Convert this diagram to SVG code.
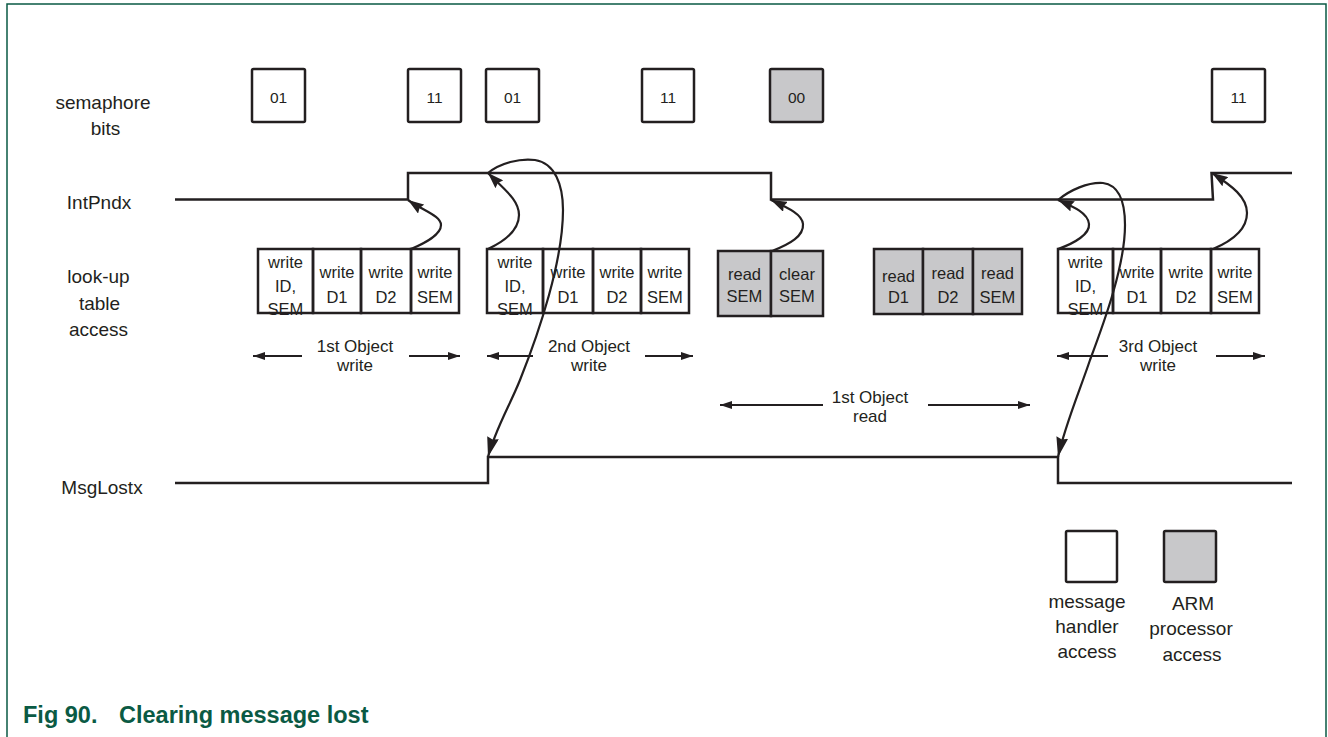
<svg xmlns="http://www.w3.org/2000/svg" width="1328" height="737" viewBox="0 0 1328 737">
<style>
  .lbl{font-family:"Liberation Sans",Arial,Helvetica,sans-serif;font-size:19px;fill:#231f20;text-anchor:middle}
  .ct{font-family:"Liberation Sans",Arial,Helvetica,sans-serif;font-size:16.5px;fill:#231f20;text-anchor:middle}
  .st{font-family:"Liberation Sans",Arial,Helvetica,sans-serif;font-size:15.5px;fill:#231f20;text-anchor:middle}
  .ot{font-family:"Liberation Sans",Arial,Helvetica,sans-serif;font-size:17px;fill:#231f20;text-anchor:middle}
  .cap{font-family:"Liberation Sans",Arial,Helvetica,sans-serif;font-size:23.5px;font-weight:bold;fill:#0a5a44}
  .box{fill:none;stroke:#231f20;stroke-width:2.5}
  .gbox{fill:#c8c8ca;stroke:#231f20;stroke-width:2.5}
  .sig{fill:none;stroke:#231f20;stroke-width:2.5}
  .cur{fill:none;stroke:#231f20;stroke-width:2.2}
  .oa{fill:none;stroke:#231f20;stroke-width:2.2}
  .frame{fill:none;stroke:#0a5a44;stroke-width:1.5}
</style>
<defs>
  <marker id="ahS" markerUnits="userSpaceOnUse" orient="auto" markerWidth="16" markerHeight="11" viewBox="0 0 16 11" refX="16" refY="5.5">
    <path d="M0,0 L16,5.5 L0,11 L2,5.5 z" fill="#231f20"/>
  </marker>
  <marker id="ahL" markerUnits="userSpaceOnUse" orient="auto" markerWidth="20" markerHeight="12" viewBox="0 0 20 12" refX="20" refY="6">
    <path d="M0,0 L20,6 L0,12 L2,6 z" fill="#231f20"/>
  </marker>
  <marker id="ahO" markerUnits="userSpaceOnUse" orient="auto" markerWidth="12" markerHeight="8" viewBox="0 0 12 8" refX="12" refY="4">
    <path d="M0,0 L12,4 L0,8 z" fill="#231f20"/>
  </marker>
</defs>

<rect x="0" y="0" width="1328" height="737" fill="#ffffff"/>
<path class="frame" d="M7,737 V4 H1326 V737"/>

<g id="row-labels">
  <text class="lbl" x="103" y="109">semaphore</text>
  <text class="lbl" x="105.5" y="135">bits</text>
  <text class="lbl" x="99" y="208.5">IntPndx</text>
  <text class="lbl" x="98.5" y="283">look-up</text>
  <text class="lbl" x="99.5" y="310">table</text>
  <text class="lbl" x="98.5" y="336">access</text>
  <text class="lbl" x="102" y="494">MsgLostx</text>
</g>

<g id="semaphore-bits">
  <g id="sem1"><rect class="box" x="252" y="69" width="53" height="53" rx="1.5"/><text class="st" x="278.5" y="102.5">01</text></g>
  <g id="sem2"><rect class="box" x="408" y="69" width="53" height="53" rx="1.5"/><text class="st" x="434.5" y="102.5">11</text></g>
  <g id="sem3"><rect class="box" x="486" y="69" width="53" height="53" rx="1.5"/><text class="st" x="512.5" y="102.5">01</text></g>
  <g id="sem4"><rect class="box" x="642" y="69" width="52" height="53" rx="1.5"/><text class="st" x="668" y="102.5">11</text></g>
  <g id="sem5"><rect class="gbox" x="770" y="69" width="53" height="53" rx="1.5"/><text class="st" x="796.5" y="102.5">00</text></g>
  <g id="sem6"><rect class="box" x="1212" y="69" width="53" height="53" rx="1.5"/><text class="st" x="1238.5" y="102.5">11</text></g>
</g>

<g id="signals">
  <path id="intpndx" class="sig" d="M175,199.5 H408 V173 H771 V199.5 H1213 L1211.5,173 H1292"/>
  <path id="msglostx" class="sig" d="M175,483 H488 V457 H1058 V483 H1292"/>
</g>

<g id="write1">
  <g id="w1c1"><text class="ct" x="285.5" y="268">write</text><text class="ct" x="285.5" y="291.5">ID,</text><text class="ct" x="285.5" y="315">SEM</text><rect class="box" x="258" y="249" width="55" height="64"/></g>
  <g id="w1c2"><text class="ct" x="337" y="278">write</text><text class="ct" x="337" y="302.5">D1</text><rect class="box" x="313" y="249" width="48" height="64"/></g>
  <g id="w1c3"><text class="ct" x="386" y="278">write</text><text class="ct" x="386" y="302.5">D2</text><rect class="box" x="361" y="249" width="50" height="64"/></g>
  <g id="w1c4"><text class="ct" x="435" y="278">write</text><text class="ct" x="435" y="302.5">SEM</text><rect class="box" x="411" y="249" width="48" height="64"/></g>
</g>

<g id="write2">
  <g id="w2c1"><text class="ct" x="515" y="268">write</text><text class="ct" x="515" y="291.5">ID,</text><text class="ct" x="515" y="315">SEM</text><rect class="box" x="487" y="249" width="56" height="64"/></g>
  <g id="w2c2"><text class="ct" x="568" y="278">write</text><text class="ct" x="568" y="302.5">D1</text><rect class="box" x="543" y="249" width="50" height="64"/></g>
  <g id="w2c3"><text class="ct" x="617" y="278">write</text><text class="ct" x="617" y="302.5">D2</text><rect class="box" x="593" y="249" width="48" height="64"/></g>
  <g id="w2c4"><text class="ct" x="665" y="278">write</text><text class="ct" x="665" y="302.5">SEM</text><rect class="box" x="641" y="249" width="48" height="64"/></g>
</g>

<g id="readsem">
  <g id="r1c1"><rect class="gbox" x="718" y="251" width="53" height="65"/><text class="ct" x="744.5" y="280">read</text><text class="ct" x="744.5" y="302">SEM</text></g>
  <g id="r1c2"><rect class="gbox" x="771" y="251" width="52" height="65"/><text class="ct" x="797" y="280">clear</text><text class="ct" x="797" y="302">SEM</text></g>
</g>

<g id="readobj">
  <g id="r2c1"><rect class="gbox" x="874" y="249" width="49" height="65"/><text class="ct" x="898.5" y="282">read</text><text class="ct" x="898.5" y="303">D1</text></g>
  <g id="r2c2"><rect class="gbox" x="923" y="249" width="50" height="65"/><text class="ct" x="948" y="279">read</text><text class="ct" x="948" y="303">D2</text></g>
  <g id="r2c3"><rect class="gbox" x="973" y="249" width="49" height="65"/><text class="ct" x="997.5" y="279">read</text><text class="ct" x="997.5" y="303">SEM</text></g>
</g>

<g id="write3">
  <g id="w3c1"><text class="ct" x="1085.5" y="268">write</text><text class="ct" x="1085.5" y="291.5">ID,</text><text class="ct" x="1085.5" y="315">SEM</text><rect class="box" x="1058" y="249" width="55" height="64"/></g>
  <g id="w3c2"><text class="ct" x="1137" y="278">write</text><text class="ct" x="1137" y="302.5">D1</text><rect class="box" x="1113" y="249" width="48" height="64"/></g>
  <g id="w3c3"><text class="ct" x="1186" y="278">write</text><text class="ct" x="1186" y="302.5">D2</text><rect class="box" x="1161" y="249" width="50" height="64"/></g>
  <g id="w3c4"><text class="ct" x="1235" y="278">write</text><text class="ct" x="1235" y="302.5">SEM</text><rect class="box" x="1211" y="249" width="48" height="64"/></g>
</g>

<g id="object-labels">
  <text class="ot" x="355" y="352">1st Object</text><text class="ot" x="355" y="371">write</text>
  <text class="ot" x="589" y="352">2nd Object</text><text class="ot" x="589" y="371">write</text>
  <text class="ot" x="1158" y="352">3rd Object</text><text class="ot" x="1158" y="371">write</text>
  <text class="ot" x="870" y="403">1st Object</text><text class="ot" x="870" y="422">read</text>
</g>

<g id="connectors">
  <line class="oa" x1="302" y1="356" x2="253" y2="356" marker-end="url(#ahO)"/>
  <line class="oa" x1="409" y1="356" x2="460" y2="356" marker-end="url(#ahO)"/>
  <line class="oa" x1="533" y1="356" x2="487" y2="356" marker-end="url(#ahO)"/>
  <line class="oa" x1="645" y1="356" x2="693" y2="356" marker-end="url(#ahO)"/>
  <line class="oa" x1="1108" y1="356" x2="1057" y2="356" marker-end="url(#ahO)"/>
  <line class="oa" x1="1216" y1="356" x2="1265" y2="356" marker-end="url(#ahO)"/>
  <line class="oa" x1="823" y1="405" x2="720" y2="405" marker-end="url(#ahO)"/>
  <line class="oa" x1="928" y1="405" x2="1030" y2="405" marker-end="url(#ahO)"/>

  <path class="cur" d="M411,249 C425,243 441,235 441,225 C441,216 424,211 408,200" marker-end="url(#ahS)"/>
  <path class="cur" d="M488,249 C505,241 519,230 519,215 C519,200 505,190 488,173" marker-end="url(#ahS)"/>
  <path class="cur" d="M772,251 C790,244 804,236 803,224 C802,214 788,208 771,200" marker-end="url(#ahS)"/>
  <path class="cur" d="M1058,249 C1075,243 1090,234 1089,224 C1088,213 1074,207 1058,200" marker-end="url(#ahS)"/>
  <path class="cur" d="M1213,249 C1232,241 1247,229 1247,213 C1247,197 1232,186 1212,173" marker-end="url(#ahS)"/>

  <path class="cur" d="M488,173 C500,163 520,158 535,160 C555,163 563,185 563,210 C563,260 540,330 520,380 C510,405 495,430 488,457" marker-end="url(#ahL)"/>
  <path class="cur" d="M1058,200 C1070,190 1088,182 1103,183 C1118,185 1125,200 1125,225 C1125,265 1105,320 1090,360 C1080,390 1065,425 1058,457" marker-end="url(#ahL)"/>
</g>

<g id="legend">
  <g id="leg-mh"><rect class="box" x="1066" y="531" width="51" height="51" rx="1.5"/>
    <text class="lbl" x="1087" y="608">message</text><text class="lbl" x="1087" y="633">handler</text><text class="lbl" x="1087" y="658">access</text></g>
  <g id="leg-arm"><rect class="gbox" x="1164" y="531" width="52" height="51" rx="1.5"/>
    <text class="lbl" x="1193" y="610">ARM</text><text class="lbl" x="1191" y="635">processor</text><text class="lbl" x="1192" y="661">access</text></g>
</g>

<g id="caption">
  <text class="cap" x="23" y="723">Fig 90.</text>
  <text class="cap" x="119" y="723">Clearing message lost</text>
</g>
</svg>
